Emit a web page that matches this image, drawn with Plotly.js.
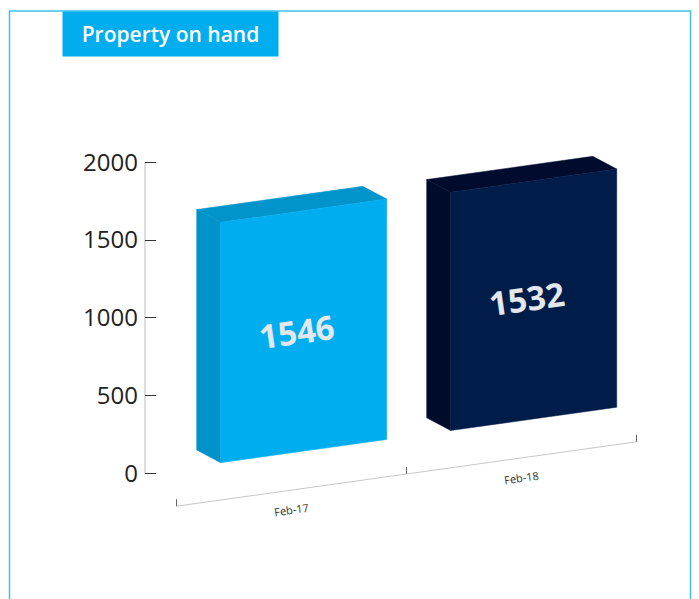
<!DOCTYPE html>
<html>
<head>
<meta charset="utf-8">
<script src="https://cdn.plot.ly/plotly-3.0.1.min.js"></script>
<style>html,body{margin:0;padding:0;background:#fff;}#chart{width:699px;height:599px;}</style>
</head>
<body>
<div id="chart"></div>
<script>
// ---- data ----
const categories = ["Feb-17", "Feb-18"];
const values = [1546, 1532];
const yTickVals = [0, 500, 1000, 1500, 2000];
const yTickText = ["0", "500", "1000", "1500", "2000"];
const titleText = "Property on hand";

// ---- style / projection constants ----
const frontColors = ["#00aeef", "#001c48"];
const sideColors  = ["#0093c9", "#000a2a"];
const topColors   = ["#0094cb", "#000b2e"];

const W = 699, H = 599;
const ML = 145, MR = 39, MT = 140, MB = 59;
const PW = W - ML - MR, PH = H - MT - MB;
const pxPerCat = 230, pxPerVal = 0.1555;
const xL = -0.690;                       // category coord at the plot's left edge
const xRange = [xL, xL + PW / pxPerCat];
const zeroPx = 473.3;                    // screen y of value 0 on the y axis
const yRange = [(zeroPx - (MT + PH)) / pxPerVal, (zeroPx - MT) / pxPerVal];
const shear = 0.14 * pxPerCat / pxPerVal; // rise of the floor, value units per category unit
const barW = 0.722;
const depthX = -0.1043, depthY = 81.7;    // offset of the back faces
const axisDrop = 240, axisShift = -0.053, tickUp = 45, labelDrop = 125;
const valueLabelShift = -0.03;

function base(x) { return shear * (x - xL); }

const traces = [];
function poly(xs, ys, color) {
  traces.push({
    type: "scatter", mode: "lines", x: xs.concat([xs[0]]), y: ys.concat([ys[0]]),
    fill: "toself", fillcolor: color, line: {width: 0.5, color: color},
    hoverinfo: "skip", showlegend: false
  });
}

const annotations = [];
categories.forEach((c, i) => {
  const v = values[i];
  const xl = i - barW / 2, xr = i + barW / 2;
  const bl = base(xl), br = base(xr);
  // side face
  poly([xl, xl, xl + depthX, xl + depthX], [bl, bl + v, bl + v + depthY, bl + depthY], sideColors[i]);
  // top face
  poly([xl, xr, xr + depthX, xl + depthX], [bl + v, br + v, br + v + depthY, bl + v + depthY], topColors[i]);
  // front face
  poly([xl, xr, xr, xl], [bl, br, br + v, bl + v], frontColors[i]);
  // value label
  const vx = i + valueLabelShift;
  annotations.push({
    x: vx, y: base(vx) + v / 2 + 15 * i, xref: "x", yref: "y", text: String(v), showarrow: false,
    textangle: -8, font: {family: "Open Sans", size: 33, color: "#e4e7ee", weight: 700}
  });
  // category label
  const lx = i + axisShift;
  annotations.push({
    x: lx, y: base(lx) - axisDrop - labelDrop, xref: "x", yref: "y", text: c, showarrow: false,
    textangle: -8, font: {family: "Open Sans", size: 11, color: "#333"}
  });
});

// slanted x axis line and ticks
const bounds = [];
for (let k = 0; k <= categories.length; k++) bounds.push(k - 0.5 + axisShift);
traces.push({
  type: "scatter", mode: "lines",
  x: [bounds[0], bounds[bounds.length - 1]],
  y: [base(bounds[0]) - axisDrop, base(bounds[bounds.length - 1]) - axisDrop],
  line: {color: "#c8c8c8", width: 1}, hoverinfo: "skip", showlegend: false
});
const tx = [], ty = [];
bounds.forEach(b => { tx.push(b, b, null); ty.push(base(b) - axisDrop, base(b) - axisDrop + tickUp, null); });
traces.push({
  type: "scatter", mode: "lines", x: tx, y: ty,
  line: {color: "#666", width: 1}, hoverinfo: "skip", showlegend: false
});

// title box
annotations.push({
  xref: "paper", yref: "paper", x: (62 - ML) / PW, y: (MT + PH - 11) / PH,
  xanchor: "left", yanchor: "top", text: titleText, showarrow: false,
  bgcolor: "#00aeef", borderpad: 0, width: 215, height: 44, align: "center", valign: "middle",
  font: {family: "Open Sans", size: 21, color: "#ffffff", weight: 600}
});

const layout = {
  width: W, height: H,
  margin: {l: ML, r: MR, t: MT, b: MB, pad: 0},
  paper_bgcolor: "#ffffff", plot_bgcolor: "#ffffff",
  showlegend: false,
  xaxis: {range: xRange, visible: false, fixedrange: true},
  yaxis: {
    range: yRange, tickvals: yTickVals, ticktext: yTickText,
    ticks: "inside", ticklen: 11, tickcolor: "#333", tickwidth: 1,
    showgrid: false, zeroline: false, showline: false, ticklabelstandoff: 6,
    tickfont: {family: "Open Sans", size: 24, color: "#222"}, fixedrange: true
  },
  shapes: [
    {type: "line", xref: "paper", yref: "y", x0: 0, x1: 0, y0: yTickVals[0], y1: yTickVals[yTickVals.length - 1],
     line: {color: "#bbbbbb", width: 1}, layer: "below"},
    {type: "rect", xref: "paper", yref: "paper",
     x0: (9.5 - ML) / PW, x1: (690.5 - ML) / PW, y0: (MT + PH - 640) / PH, y1: (MT + PH - 11) / PH,
     line: {color: "#3fbfef", width: 1.5}, layer: "below"}
  ],
  annotations: annotations
};

Plotly.newPlot("chart", traces, layout, {staticPlot: true, displayModeBar: false});
</script>
</body>
</html>
